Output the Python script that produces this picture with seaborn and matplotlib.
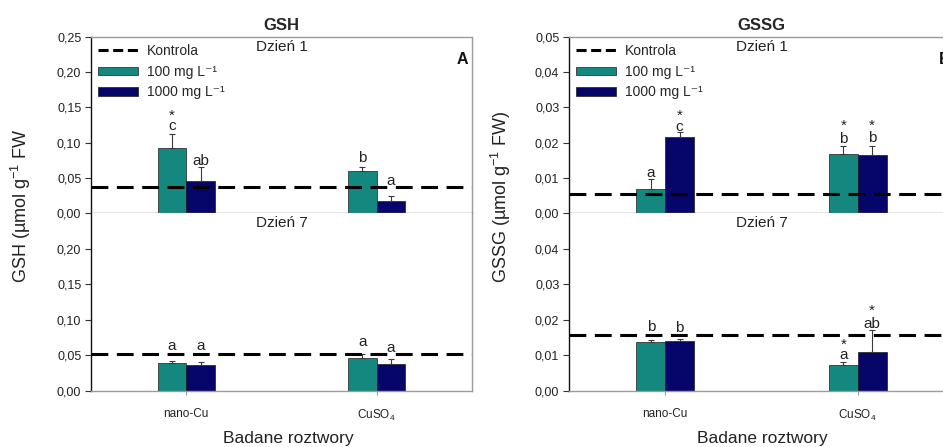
import matplotlib
matplotlib.use("Agg")
import matplotlib.pyplot as plt
import seaborn as sns
import pandas as pd
from matplotlib.lines import Line2D
from matplotlib.patches import Patch
from matplotlib.ticker import FuncFormatter, MultipleLocator

# ---------------- data ----------------
categories = ['nano-Cu', 'CuSO$_4$']
concentrations = ['100 mg L⁻¹', '1000 mg L⁻¹']
control_label = 'Kontrola'
day_labels = ['Dzień 1', 'Dzień 7']
panel_titles = ['GSH', 'GSSG']
panel_letters = ['A', 'B']
ylabels = ['GSH (µmol g$^{-1}$ FW', 'GSSG (µmol g$^{-1}$ FW)']
xlabel = 'Badane roztwory'

# GSH, day 1
gsh_d1_100 = [0.093, 0.059]
gsh_d1_100_err = [0.019, 0.007]
gsh_d1_1000 = [0.0455, 0.0175]
gsh_d1_1000_err = [0.020, 0.0067]
gsh_d1_control = 0.037
gsh_d1_letters_100 = ['c', 'b']
gsh_d1_letters_1000 = ['ab', 'a']
gsh_d1_star_100 = [True, False]
gsh_d1_star_1000 = [False, False]

# GSH, day 7
gsh_d7_100 = [0.040, 0.047]
gsh_d7_100_err = [0.002, 0.005]
gsh_d7_1000 = [0.0366, 0.0385]
gsh_d7_1000_err = [0.0035, 0.0065]
gsh_d7_control = 0.052
gsh_d7_letters_100 = ['a', 'a']
gsh_d7_letters_1000 = ['a', 'a']
gsh_d7_star_100 = [False, False]
gsh_d7_star_1000 = [False, False]

# GSSG, day 1
gssg_d1_100 = [0.0067, 0.0168]
gssg_d1_100_err = [0.0029, 0.0021]
gssg_d1_1000 = [0.0217, 0.0165]
gssg_d1_1000_err = [0.0012, 0.0025]
gssg_d1_control = 0.0054
gssg_d1_letters_100 = ['a', 'b']
gssg_d1_letters_1000 = ['c', 'b']
gssg_d1_star_100 = [False, True]
gssg_d1_star_1000 = [True, True]

# GSSG, day 7
gssg_d7_100 = [0.0138, 0.0074]
gssg_d7_100_err = [0.0005, 0.0008]
gssg_d7_1000 = [0.0140, 0.0110]
gssg_d7_1000_err = [0.0007, 0.0060]
gssg_d7_control = 0.0157
gssg_d7_letters_100 = ['b', 'a']
gssg_d7_letters_1000 = ['b', 'ab']
gssg_d7_star_100 = [False, True]
gssg_d7_star_1000 = [False, True]

# ---------------- style ----------------
sns.set_style('white')
plt.rcParams['font.family'] = ['Liberation Sans', 'DejaVu Sans']
plt.rcParams['mathtext.fontset'] = 'custom'
plt.rcParams['mathtext.rm'] = 'Liberation Sans'
plt.rcParams['mathtext.it'] = 'Liberation Sans:italic'
plt.rcParams['mathtext.bf'] = 'Liberation Sans:bold'

TEAL = '#14877e'
NAVY = '#06066a'
SPINE_GREY = '#9a9a9a'
TXT = '#222222'

# label offsets (pixels above error-bar top), layout only
label_offsets = {
    ('GSH', 0): ([4, 5], [2, 11]),
    ('GSH', 1): ([11, 8], [12, 7]),
    ('GSSG', 0): ([2, 4], [2, 4]),
    ('GSSG', 1): ([9, 3], [7, 3]),
}

panels = [
    dict(name='GSH', ymax=0.25, step=0.05,
         days=[
             (gsh_d1_100, gsh_d1_100_err, gsh_d1_1000, gsh_d1_1000_err, gsh_d1_control,
              gsh_d1_letters_100, gsh_d1_letters_1000, gsh_d1_star_100, gsh_d1_star_1000),
             (gsh_d7_100, gsh_d7_100_err, gsh_d7_1000, gsh_d7_1000_err, gsh_d7_control,
              gsh_d7_letters_100, gsh_d7_letters_1000, gsh_d7_star_100, gsh_d7_star_1000),
         ]),
    dict(name='GSSG', ymax=0.05, step=0.01,
         days=[
             (gssg_d1_100, gssg_d1_100_err, gssg_d1_1000, gssg_d1_1000_err, gssg_d1_control,
              gssg_d1_letters_100, gssg_d1_letters_1000, gssg_d1_star_100, gssg_d1_star_1000),
             (gssg_d7_100, gssg_d7_100_err, gssg_d7_1000, gssg_d7_1000_err, gssg_d7_control,
              gssg_d7_letters_100, gssg_d7_letters_1000, gssg_d7_star_100, gssg_d7_star_1000),
         ]),
]

W, H = 943, 447
fig = plt.figure(figsize=(W / 100, H / 100), dpi=100)

panel_x = [(91, 472), (569, 954)]
y_top, y_mid, y_bot = 37, 213, 391
ylabel_x = [21, 501]
xlabel_x = [288, 762]

fmt = FuncFormatter(lambda v, p: f'{v:.2f}'.replace('.', ','))
DESC_PX = 3.2  # descent of the label font, in pixels

for pi, panel in enumerate(panels):
    x0, x1 = panel_x[pi]
    for di in range(2):
        top = y_top if di == 0 else y_mid
        bot = y_mid if di == 0 else y_bot
        ax = fig.add_axes([x0 / W, 1 - bot / H, (x1 - x0) / W, (bot - top) / H])
        v100, e100, v1000, e1000, ctrl, l100, l1000, s100, s1000 = panel['days'][di]
        df = pd.DataFrame({
            'Roztwór': categories * 2,
            'Stężenie': [concentrations[0]] * 2 + [concentrations[1]] * 2,
            'Wartość': list(v100) + list(v1000),
        })
        sns.barplot(data=df, x='Roztwór', y='Wartość', hue='Stężenie',
                    order=categories, hue_order=concentrations,
                    palette=[TEAL, NAVY], saturation=1, width=0.3,
                    errorbar=None, edgecolor='#1c1c1c', linewidth=0.5,
                    legend=False, ax=ax, zorder=2)
        bar_containers = list(ax.containers)
        errs = [e100, e1000]
        letters = [l100, l1000]
        stars = [s100, s1000]
        offs = label_offsets[(panel['name'], di)]
        for hi, cont in enumerate(bar_containers):
            for ci, bar in enumerate(cont.patches):
                xc = bar.get_x() + bar.get_width() / 2
                h = bar.get_height()
                e = errs[hi][ci]
                ax.errorbar([xc], [h], yerr=[[0], [e]], fmt='none', ecolor='#3a3a3a',
                            elinewidth=0.8, capsize=2.5, capthick=0.8, zorder=2.5)
                lt = letters[hi][ci]
                off = offs[hi][ci]
                if stars[hi][ci]:
                    asc = any(ch in 'bdfhklt' for ch in lt)
                    ax.annotate('*\n' + lt, xy=(xc, h + e),
                                xytext=(0, (off - DESC_PX) * 0.72),
                                textcoords='offset points', ha='center', va='bottom',
                                multialignment='center',
                                linespacing=(0.88 if asc else 0.68),
                                fontsize=11, color=TXT)
                else:
                    ax.annotate(lt, xy=(xc, h + e), xytext=(0, off * 0.72),
                                textcoords='offset points', ha='center', va='baseline',
                                fontsize=11, color=TXT)
        ax.axhline(ctrl, color='black', lw=2.2, dashes=(5.5, 2.8), zorder=3)

        ax.set_xlim(-0.5, 1.5)
        ax.set_ylim(0, panel['ymax'])
        ax.yaxis.set_major_locator(MultipleLocator(panel['step']))
        ax.yaxis.set_major_formatter(fmt)
        if di == 1:
            ticks = [panel['step'] * k for k in range(int(round(panel['ymax'] / panel['step'])))]
            ax.set_yticks(ticks)
        ax.set_xlabel('')
        ax.set_ylabel('')
        ax.tick_params(axis='y', left=True, direction='out', length=4, width=0.8,
                       color='#333333', labelsize=9, pad=3, labelcolor=TXT)
        if di == 0:
            ax.tick_params(axis='x', bottom=False, labelbottom=False)
        else:
            ax.tick_params(axis='x', bottom=True, direction='out', length=3, width=0.8,
                           color=SPINE_GREY, labelsize=8.5, pad=9, labelcolor=TXT)
        for s in ['top', 'right', 'bottom']:
            ax.spines[s].set_color(SPINE_GREY)
            ax.spines[s].set_linewidth(1.0)
        if di == 0:
            ax.spines['bottom'].set_color('#7a7a7a')
        ax.spines['left'].set_color('#111111')
        ax.spines['left'].set_linewidth(1.0)
        if di == 1:
            ax.spines['top'].set_visible(False)
        ax.text(0.5, 1 - 3 / (bot - top), day_labels[di], transform=ax.transAxes,
                ha='center', va='top', fontsize=11, color=TXT)
        if di == 0:
            ax.set_title(panel_titles[pi], fontsize=12, fontweight='bold', pad=5)
            ax.text(1 - 4 / (x1 - x0), 1 - 27 / (bot - top), panel_letters[pi],
                    transform=ax.transAxes, ha='right', va='baseline',
                    fontsize=11.5, fontweight='bold', color='#111111')
            handles = [
                Line2D([0], [0], color='black', lw=2.2, dashes=(3.3, 1.5)),
                Patch(facecolor=TEAL, edgecolor='#1c1c1c', linewidth=0.5),
                Patch(facecolor=NAVY, edgecolor='#1c1c1c', linewidth=0.5),
            ]
            ax.legend(handles, [control_label] + concentrations, loc='upper left',
                      bbox_to_anchor=(0.0, 1.0), frameon=False, fontsize=10,
                      handlelength=2.9, handleheight=0.55, handletextpad=0.65,
                      labelspacing=0.48, borderaxespad=0.3, borderpad=0.2)

    fig.text(ylabel_x[pi] / W, 1 - 283 / H, ylabels[pi], rotation=90,
             ha='center', va='bottom', fontsize=13, color=TXT)
    fig.text(xlabel_x[pi] / W, 1 - 438 / H, xlabel, ha='center', va='center',
             fontsize=12.5, color=TXT)

fig.savefig('out.png', dpi=100)
